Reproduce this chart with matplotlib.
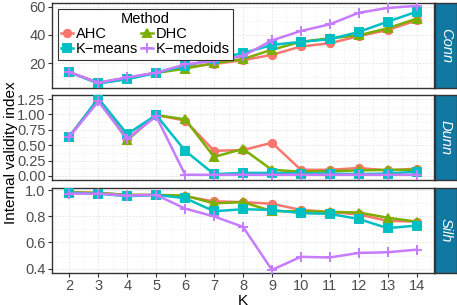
import numpy as np
import matplotlib.pyplot as plt
from matplotlib.ticker import AutoMinorLocator

plt.rcParams['font.family'] = ['Liberation Sans', 'DejaVu Sans']

K = [2, 3, 4, 5, 6, 7, 8, 9, 10, 11, 12, 13, 14]
methods = ["AHC", "DHC", "K\u2212means", "K\u2212medoids"]
colors = ["#F8766D", "#7CAE00", "#00BFC4", "#C77CFF"]
markers = ["o", "^", "s", "+"]

conn_ahc = [13.5, 6, 9.5, 13, 17, 19.3, 22, 25.8, 31.7, 34, 39, 43.4, 50.2]
conn_dhc = [13.5, 6, 9.5, 13, 16, 20, 22.8, 29.4, 35, 37.5, 39.6, 44.6, 51.4]
conn_kmeans = [13.5, 5.5, 8.5, 13, 18, 22.8, 27, 32.8, 35, 36.8, 42, 49.3, 56.3]
conn_kmedoids = [13.5, 6, 9.8, 13.2, 19, 21.4, 25, 36, 42.7, 47.4, 55.6, 59, 60.5]

dunn_ahc = [0.64, 1.25, 0.6, 0.99, 0.90, 0.41, 0.42, 0.54, 0.10, 0.10, 0.13, 0.09, 0.12]
dunn_dhc = [0.64, 1.25, 0.58, 0.99, 0.92, 0.31, 0.44, 0.10, 0.07, 0.08, 0.09, 0.10, 0.10]
dunn_kmeans = [0.64, 1.26, 0.68, 0.99, 0.41, 0.03, 0.05, 0.05, 0.04, 0.04, 0.03, 0.04, 0.07]
dunn_kmedoids = [0.64, 1.21, 0.60, 0.97, 0.02, 0.02, 0.02, 0.02, 0.02, 0.02, 0.02, 0.02, 0.02]

silh_ahc = [0.985, 0.98, 0.965, 0.965, 0.955, 0.915, 0.91, 0.897, 0.85, 0.835, 0.815, 0.766, 0.76]
silh_dhc = [0.985, 0.98, 0.965, 0.965, 0.96, 0.90, 0.91, 0.84, 0.84, 0.835, 0.83, 0.79, 0.76]
silh_kmeans = [0.98, 0.975, 0.955, 0.965, 0.94, 0.84, 0.855, 0.85, 0.825, 0.82, 0.78, 0.71, 0.73]
silh_kmedoids = [0.975, 0.975, 0.96, 0.965, 0.86, 0.80, 0.72, 0.39, 0.49, 0.485, 0.52, 0.525, 0.545]

panels = [
    ("Conn", [conn_ahc, conn_dhc, conn_kmeans, conn_kmedoids], (2.3, 62.5), [20, 40, 60], ["20", "40", "60"]),
    ("Dunn", [dunn_ahc, dunn_dhc, dunn_kmeans, dunn_kmedoids], (-0.065, 1.315),
     [0, 0.25, 0.5, 0.75, 1.0, 1.25], ["0.00", "0.25", "0.50", "0.75", "1.00", "1.25"]),
    ("Silh", [silh_ahc, silh_dhc, silh_kmeans, silh_kmedoids], (0.366, 1.018),
     [0.4, 0.6, 0.8, 1.0], ["0.4", "0.6", "0.8", "1.0"]),
]

W, H = 457, 305
fig = plt.figure(figsize=(W / 100, H / 100), dpi=100)

left, right = 52, 434
tops = [3, 95, 188]
ph = 85
strip_w = 22

axes = []
for i, (name, series, ylim, yt, ytl) in enumerate(panels):
    top = tops[i]
    ax = fig.add_axes([left / W, (H - top - ph) / H, (right - left) / W, ph / H])
    for vals, c, m, lab in zip(series, colors, markers, methods):
        ms = 7.5 if m == "+" else 5.3
        ax.plot(K, vals, color=c, lw=1.8, marker=m, ms=ms, mew=1.4, label=lab, zorder=3)
    ax.set_xlim(1.4, 14.6)
    ax.set_ylim(*ylim)
    ax.set_yticks(yt)
    ax.set_yticklabels(ytl)
    ax.set_xticks(K)
    ax.yaxis.set_minor_locator(AutoMinorLocator(2))
    ax.xaxis.set_minor_locator(AutoMinorLocator(2))
    ax.grid(which="major", color="#E0E0E0", lw=0.6, ls=(0, (2, 2)))
    ax.grid(which="minor", color="#EDEDED", lw=0.5, ls=(0, (2, 2)))
    ax.tick_params(which="minor", length=0)
    ax.tick_params(which="major", length=3, color="#333333", labelsize=10.5,
                   labelcolor="#4D4D4D", pad=1.5)
    for s in ax.spines.values():
        s.set_color("#333333")
        s.set_linewidth(1.0)
    if i < 2:
        ax.tick_params(axis="x", labelbottom=False, length=0)
    sax = fig.add_axes([(right + 1) / W, (H - top - ph) / H, strip_w / W, ph / H])
    sax.set_facecolor("#1178A1")
    sax.set_xticks([])
    sax.set_yticks([])
    for s in sax.spines.values():
        s.set_color("#333333")
        s.set_linewidth(1.0)
    sax.text(0.5, 0.5, name, rotation=-90, ha="center", va="center", color="white",
             style="italic", fontsize=10.5, transform=sax.transAxes)
    axes.append(ax)

axes[2].set_xlabel("K", fontsize=11, labelpad=0.5)
fig.text(0.008, 0.5, "Internal validity index", rotation=90, ha="left", va="center", fontsize=11)

# legend rows: AHC / DHC, then K-means / K-medoids
hs, ls = axes[0].get_legend_handles_labels()
order = [0, 2, 1, 3]
leg = axes[0].legend([hs[j] for j in order], [ls[j] for j in order], title="Method", ncol=2,
                     loc="upper left", bbox_to_anchor=(0.0, 1.0),
                     fontsize=10.5, title_fontsize=10.5, frameon=True, fancybox=False,
                     handlelength=0.8, handletextpad=0.2, columnspacing=0.2,
                     labelspacing=0.05, borderpad=0.25, borderaxespad=0.4)
leg.get_frame().set_edgecolor("#333333")
leg.get_frame().set_linewidth(0.8)
leg.get_frame().set_alpha(1)

fig.savefig("out.png", dpi=100)
